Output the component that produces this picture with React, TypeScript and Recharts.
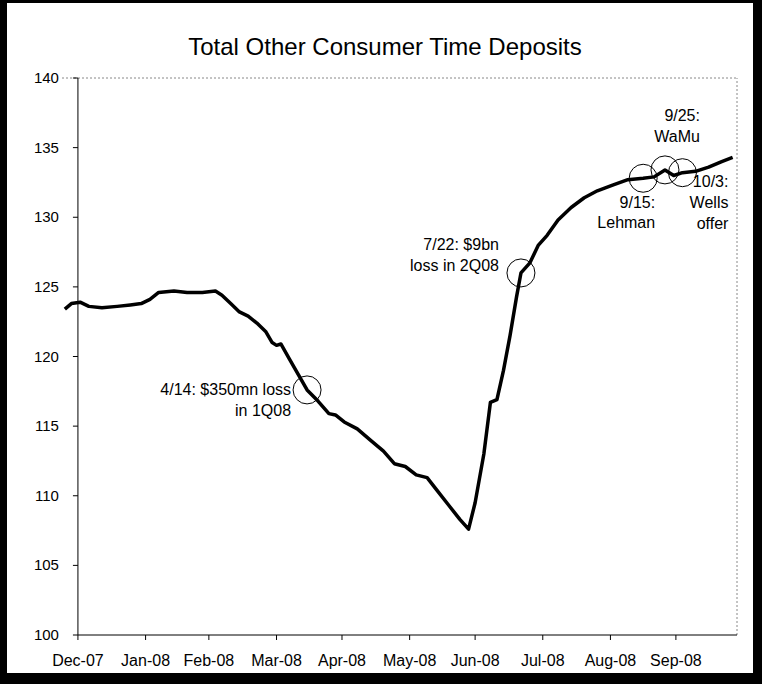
import { LineChart, Line, XAxis, YAxis, ReferenceLine, ReferenceDot } from "recharts"

// days counted from Dec 31, 2007 (the "Dec-07" tick)
const monthLabels = ["Dec-07", "Jan-08", "Feb-08", "Mar-08", "Apr-08", "May-08", "Jun-08", "Jul-08", "Aug-08", "Sep-08"]
const monthEnds = [0, 31, 60, 91, 121, 152, 182, 213, 244, 274]
const yTicks = [100, 105, 110, 115, 120, 125, 130, 135, 140]

const days = [
  -6, -3, 1, 5, 11, 18, 24, 29, 33, 37, 44, 50, 57, 63, 66, 70, 74, 78, 82, 86, 89, 91, 93, 97, 101,
  105, 110, 115, 118, 122, 128, 134, 140, 145, 150, 155, 160, 165, 170, 175, 179, 182, 186, 189, 192,
  195, 198, 201, 203, 207, 211, 215, 220, 226, 232, 238, 245, 252, 259, 264, 269, 273, 277, 283, 289,
  295, 300,
]
const deposits = [
  123.4, 123.8, 123.9, 123.6, 123.5, 123.6, 123.7, 123.8, 124.1, 124.6, 124.7, 124.6, 124.6, 124.7,
  124.4, 123.8, 123.2, 122.9, 122.4, 121.8, 121.0, 120.8, 120.9, 119.8, 118.7, 117.6, 116.8, 115.9,
  115.8, 115.3, 114.8, 114.0, 113.2, 112.3, 112.1, 111.5, 111.3, 110.3, 109.3, 108.3, 107.6, 109.5,
  113.0, 116.7, 116.9, 119.0, 121.5, 124.3, 126.0, 126.7, 128.0, 128.7, 129.8, 130.7, 131.4, 131.9,
  132.3, 132.7, 132.8, 132.9, 133.4, 133.0, 133.2, 133.3, 133.6, 134.0, 134.3,
]

const eventDays = [105, 203, 259, 269, 277]
const eventValues = [117.6, 126.0, 132.8, 133.4, 133.2]
const eventText = [
  ["4/14: $350mn loss", "in 1Q08"],
  ["7/22: $9bn", "loss in 2Q08"],
  ["9/15:", "Lehman"],
  ["9/25:", "WaMu"],
  ["10/3:", "Wells", "offer"],
]

const data = days.map((t, i) => ({ t, v: deposits[i] }))

const FONT = "'Liberation Sans', Arial, sans-serif"
const W = 762
const H = 684
const X_MIN = -7.3
const X_MAX = 302
const M = { top: 78, right: 25, bottom: 19, left: 10 }
const Y_AXIS_W = 52
const PLOT_LEFT = M.left + Y_AXIS_W
const PLOT_W = W - M.right - PLOT_LEFT
const AXIS_X = PLOT_LEFT + ((0 - X_MIN) / (X_MAX - X_MIN)) * PLOT_W

// where each annotation's text sits relative to its circle
const textPlace = [
  { dx: -16, dys: [5, 26] },
  { dx: -22, dys: [-23, -2] },
  { dx: 12, dys: [30, 50] },
  { dx: 35, dys: [-49, -28] },
  { dx: 46, dys: [14, 35, 56] },
]

function EventMark(props: any) {
  const { cx, cy, idx } = props
  const place = textPlace[idx]
  return (
    <g>
      <circle cx={cx} cy={cy} r={14} fill="none" stroke="#000" strokeWidth={1} />
      {eventText[idx].map((line, k) => (
        <text key={k} x={cx + place.dx} y={cy + place.dys[k]} textAnchor="end" fontSize={16} fontFamily={FONT} fill="#000">
          {line}
        </text>
      ))}
    </g>
  )
}

function YTick(props: any) {
  const { y, payload } = props
  return (
    <g>
      <line x1={AXIS_X - 5} x2={AXIS_X} y1={y} y2={y} stroke="#000" />
      <text x={AXIS_X - 19} y={y + 5} textAnchor="end" fontSize={15} fontFamily={FONT} fill="#000">
        {payload.value}
      </text>
    </g>
  )
}

export default function App() {
  return (
    <div style={{ position: "absolute", left: 0, top: 0, width: W, height: H, background: "#000" }}>
      <div style={{ position: "absolute", left: 7, top: 3, width: 746, height: 670, background: "#fff" }} />
      <div
        style={{
          position: "absolute",
          left: 4,
          top: 33,
          width: W,
          textAlign: "center",
          fontFamily: FONT,
          fontSize: 24,
          color: "#000",
        }}
      >
        Total Other Consumer Time Deposits
      </div>
      <div style={{ position: "absolute", left: 0, top: 0 }}>
        <LineChart width={W} height={H} data={data} margin={M}>
          <XAxis
            type="number"
            dataKey="t"
            domain={[X_MIN, X_MAX]}
            allowDataOverflow
            ticks={monthEnds}
            tickFormatter={(t: number) => monthLabels[monthEnds.indexOf(t)]}
            axisLine={false}
            tickLine={{ stroke: "#000" }}
            tickSize={5}
            tickMargin={15}
            height={30}
            tick={{ fontSize: 16, fill: "#000", fontFamily: FONT }}
            interval={0}
          />
          <YAxis
            type="number"
            domain={[100, 140]}
            ticks={yTicks}
            width={Y_AXIS_W}
            axisLine={false}
            tickLine={false}
            tick={<YTick />}
            interval={0}
          />
          <ReferenceLine y={140} stroke="#888" strokeDasharray="2 2" />
          <ReferenceLine x={X_MAX} stroke="#888" strokeDasharray="2 2" />
          <ReferenceLine x={0} stroke="#000" />
          <ReferenceLine segment={[{ x: 0, y: 100 }, { x: X_MAX, y: 100 }]} stroke="#000" />
          <Line
            type="linear"
            dataKey="v"
            stroke="#000"
            strokeWidth={3.5}
            strokeLinejoin="round"
            dot={false}
            isAnimationActive={false}
          />
          {eventDays.map((d, i) => (
            <ReferenceDot
              key={i}
              x={d}
              y={eventValues[i]}
              r={14}
              shape={(p: any) => <EventMark {...p} idx={i} />}
            />
          ))}
        </LineChart>
      </div>
    </div>
  )
}
